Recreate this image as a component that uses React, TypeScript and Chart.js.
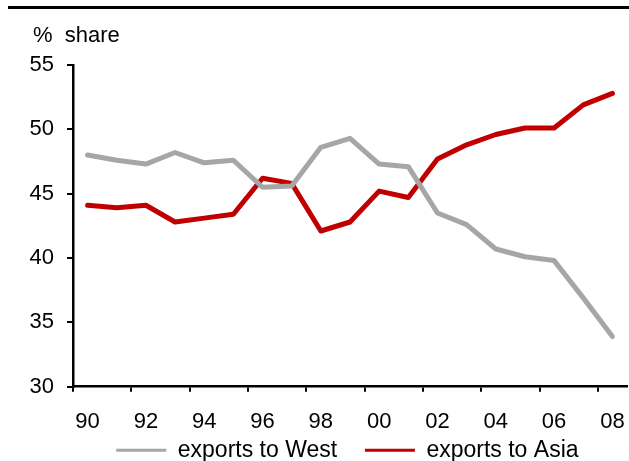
import React, { useEffect, useRef } from 'react';
import { Chart, registerables } from 'chart.js';

Chart.register(...registerables);

const years = ['90', '91', '92', '93', '94', '95', '96', '97', '98', '99', '00', '01', '02', '03', '04', '05', '06', '07', '08'];
const exportsToWest = [48.0, 47.6, 47.3, 48.2, 47.4, 47.6, 45.5, 45.6, 48.6, 49.3, 47.3, 47.1, 43.5, 42.6, 40.7, 40.1, 39.8, 36.9, 33.9];
const exportsToAsia = [44.1, 43.9, 44.1, 42.8, 43.1, 43.4, 46.2, 45.8, 42.1, 42.8, 45.2, 44.7, 47.7, 48.8, 49.6, 50.1, 50.1, 51.9, 52.8];
const yMin = 30;
const yMax = 55;
const yStep = 5;
const titleText = '%  share';

const FONT = "'Liberation Sans', Arial, sans-serif";

const titlePlugin = {
  id: 'pctTitle',
  afterDraw(chart: any) {
    const ctx = chart.ctx;
    ctx.save();
    ctx.font = `22px ${FONT}`;
    ctx.fillStyle = '#000';
    ctx.textBaseline = 'alphabetic';
    ctx.textAlign = 'left';
    ctx.fillText(titleText, 33, 42);
    ctx.restore();
  },
};

// move the legend up so that it sits just below the tick labels
const legendPlacePlugin = {
  id: 'legendPlace',
  afterLayout(chart: any) {
    const lg = chart.legend;
    if (!lg) return;
    const dy = 411 - lg.top;
    lg.top += dy;
    lg.bottom += dy;
    lg.left -= 2.6;
    lg.right -= 2.6;
  },
};

export default function App() {
  const ref = useRef<HTMLCanvasElement | null>(null);

  useEffect(() => {
    if (!ref.current) return;
    Chart.defaults.font.family = FONT;
    const chart = new Chart(ref.current, {
      type: 'line',
      data: {
        labels: years,
        datasets: [
          {
            label: 'exports to West',
            data: exportsToWest,
            borderColor: '#A6A6A6',
            backgroundColor: '#A6A6A6',
            borderWidth: 5,
            pointRadius: 0,
            borderCapStyle: 'round',
            borderJoinStyle: 'round',
            tension: 0,
          },
          {
            label: 'exports to Asia',
            data: exportsToAsia,
            borderColor: '#C00000',
            backgroundColor: '#C00000',
            borderWidth: 5,
            pointRadius: 0,
            borderCapStyle: 'round',
            borderJoinStyle: 'round',
            tension: 0,
          },
        ],
      },
      options: {
        responsive: false,
        animation: false,
        devicePixelRatio: 1,
        layout: { padding: { top: 65, left: 0, right: 2, bottom: 0.5 } },
        plugins: {
          tooltip: { enabled: false },
          title: { display: false },
          legend: {
            position: 'bottom',
            fullSize: false,
            labels: {
              boxWidth: 50,
              boxHeight: 3,
              padding: 27.8,
              color: '#000',
              font: { size: 23, family: FONT },
              generateLabels: (c: any) =>
                c.data.datasets.map((ds: any, i: number) => ({
                  text: ds.label,
                  fillStyle: ds.borderColor,
                  strokeStyle: ds.borderColor,
                  lineWidth: 0,
                  hidden: false,
                  datasetIndex: i,
                  fontColor: '#000',
                })),
            },
          },
        },
        scales: {
          x: {
            type: 'category',
            offset: true,
            afterFit: (s: any) => {
              s.height = 49;
              s.paddingLeft = 0;
              s.paddingRight = 0;
            },
            grid: {
              offset: true,
              drawOnChartArea: false,
              drawTicks: true,
              tickLength: 5,
              lineWidth: 2,
              tickColor: (ctx: any) => (typeof ctx.index === 'number' && ctx.index % 2 === 0 ? '#000' : 'rgba(0,0,0,0)'),
            },
            border: { display: true, color: '#000', width: 2.5 },
            ticks: {
              autoSkip: false,
              maxRotation: 0,
              padding: 17,
              color: '#000',
              font: { size: 22, family: FONT },
              callback: (_v: any, i: number) => (i % 2 === 0 ? years[i] : ''),
            },
          },
          y: {
            min: yMin,
            max: yMax,
            afterFit: (s: any) => {
              s.width = 73;
            },
            grid: {
              drawOnChartArea: false,
              drawTicks: true,
              tickLength: 6,
              lineWidth: 2,
              tickColor: '#000',
            },
            border: { display: true, color: '#000', width: 2.5 },
            ticks: {
              stepSize: yStep,
              padding: 13,
              color: '#000',
              font: { size: 22, family: FONT },
            },
          },
        },
      },
      plugins: [titlePlugin, legendPlacePlugin],
    } as any);
    return () => chart.destroy();
  }, []);

  return (
    <div
      style={{
        position: 'absolute',
        left: 0,
        top: 0,
        width: 629,
        height: 461,
        overflow: 'hidden',
        background: '#fff',
      }}
    >
      <div style={{ position: 'absolute', left: 8, top: 6, width: 621, height: 3, background: '#000' }} />
      <canvas ref={ref} width={629} height={497} style={{ display: 'block', width: 629, height: 497 }} />
    </div>
  );
}
